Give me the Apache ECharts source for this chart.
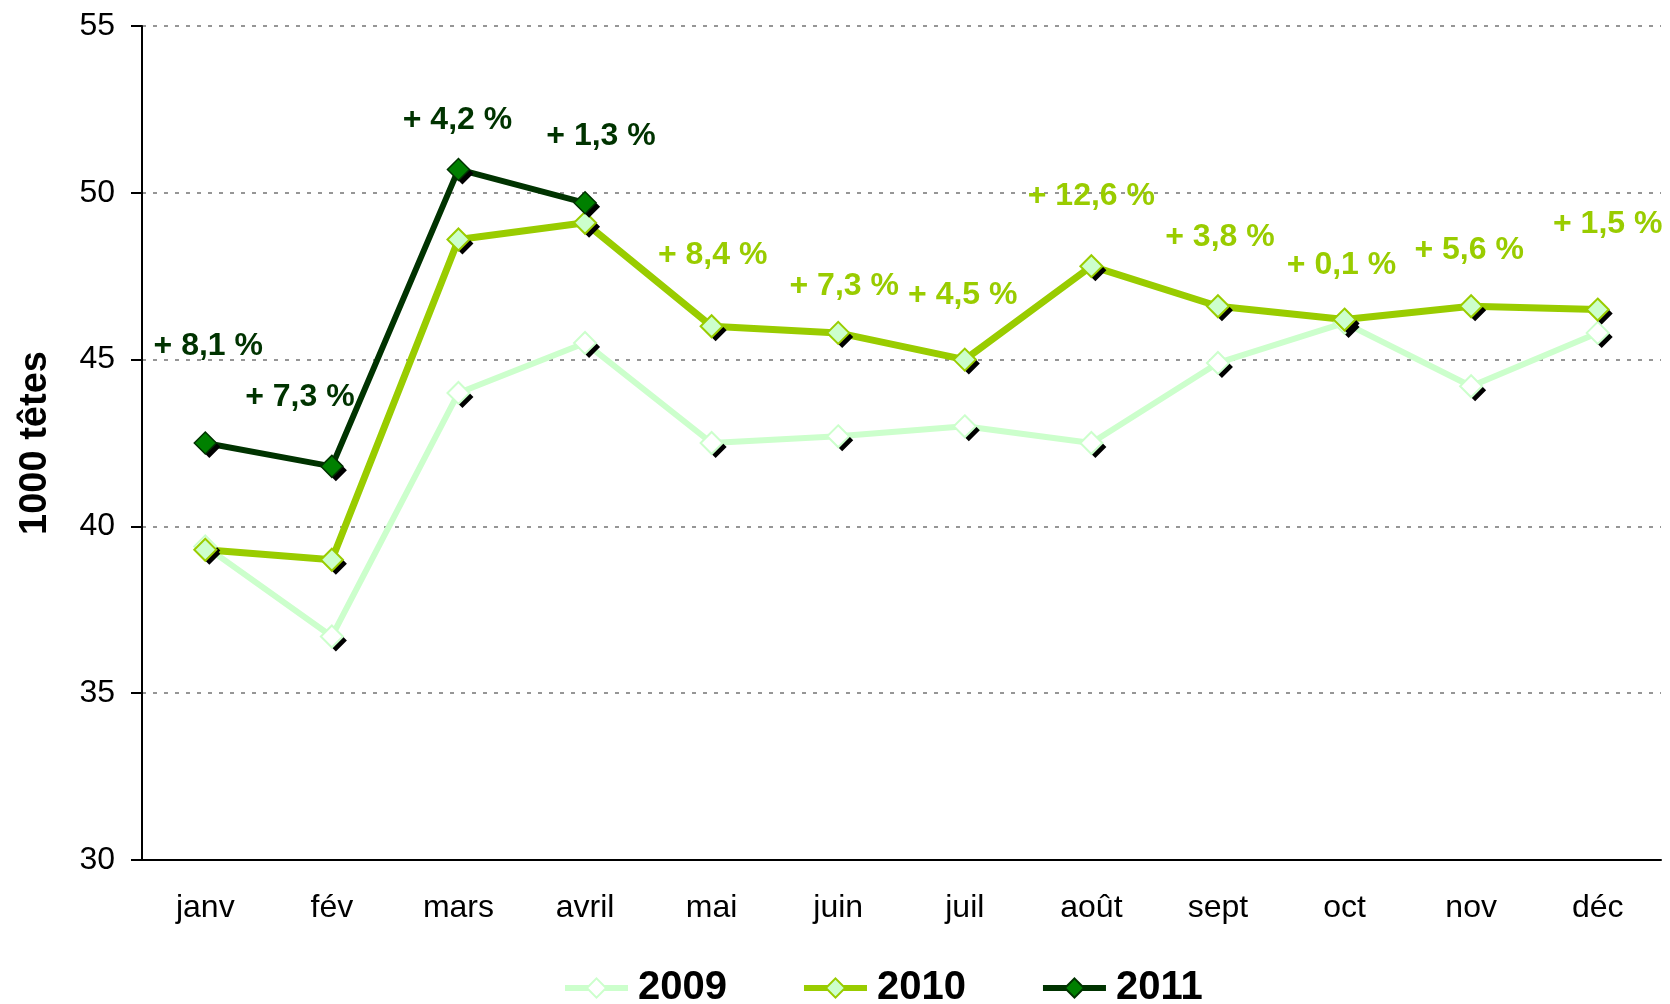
<!DOCTYPE html>
<html>
<head>
<meta charset="utf-8">
<script src="https://cdn.jsdelivr.net/npm/echarts@6/dist/echarts.min.js"></script>
<style>
  html, body { margin: 0; padding: 0; background: #fff; }
  #chart { width: 1670px; height: 1004px; }
</style>
</head>
<body>
<div id="chart"></div>
<script>
// data
var months = ['janv', 'fév', 'mars', 'avril', 'mai', 'juin', 'juil', 'août', 'sept', 'oct', 'nov', 'déc'];
var val2009 = [39.4, 36.7, 44.0, 45.5, 42.5, 42.7, 43.0, 42.5, 44.9, 46.1, 44.2, 45.8];
var val2010 = [39.3, 39.0, 48.6, 49.1, 46.0, 45.8, 45.0, 47.8, 46.6, 46.2, 46.6, 46.5];
var val2011 = [42.5, 41.8, 50.7, 49.7];
var pct2010 = [null, null, null, null, '+ 8,4 %', '+ 7,3 %', '+ 4,5 %', '+ 12,6 %', '+ 3,8 %', '+ 0,1 %', '+ 5,6 %', '+ 1,5 %'];
var pct2011 = ['+ 8,1 %', '+ 7,3 %', '+ 4,2 %', '+ 1,3 %'];
var yTicks = { min: 30, max: 55, step: 5 };

// label placement relative to its point (layout only)
var off2010 = [null, null, null, null, [1, -71], [6, -47], [-2, -64], [0, -70], [2, -69], [-3, -54], [-2, -56], [10, -85]];
var off2011 = [[3, -97], [-32, -69], [-1, -49], [16, -67]];

var font = "'Liberation Sans', Arial, sans-serif";
var markSize = 22;

function withLabels(values, texts, offsets, color) {
  return values.map(function (v, i) {
    if (!texts[i]) return v;
    return {
      value: v,
      label: {
        show: true,
        position: 'inside',
        offset: offsets[i],
        formatter: texts[i],
        color: color,
        fontFamily: font,
        fontWeight: 'bold',
        fontSize: 32
      }
    };
  });
}

// black drop shadow under each marker
function shadowSeries(name, values) {
  return {
    name: name,
    type: 'line',
    data: values,
    silent: true,
    symbol: 'diamond',
    symbolSize: markSize,
    symbolOffset: [4, 4],
    lineStyle: { opacity: 0, width: 0 },
    itemStyle: { color: '#000', borderWidth: 0 }
  };
}

var chart = echarts.init(document.getElementById('chart'));
var option = {
  animation: false,
  grid: { left: 142, right: 9, top: 26, bottom: 144 },
  legend: {
    left: 562,
    top: 968,
    padding: 0,
    itemWidth: 63,
    itemHeight: 24,
    itemGap: 74,
    textStyle: { fontFamily: font, fontWeight: 'bold', fontSize: 40, color: '#000', padding: [0, 0, 0, 5] },
    lineStyle: { width: 6 },
    data: ['2009', '2010', '2011']
  },
  xAxis: {
    type: 'category',
    data: months,
    axisLine: { lineStyle: { color: '#000', width: 2 } },
    axisTick: { length: 10, lineStyle: { color: '#000', width: 2 } },
    axisLabel: { color: '#000', fontFamily: font, fontSize: 32, margin: 32 }
  },
  yAxis: {
    type: 'value',
    min: yTicks.min,
    max: yTicks.max,
    interval: yTicks.step,
    name: '1000 têtes',
    nameLocation: 'middle',
    nameGap: 87,
    nameTextStyle: { color: '#000', fontFamily: font, fontWeight: 'bold', fontSize: 38 },
    axisLine: { show: true, lineStyle: { color: '#000', width: 2 } },
    axisTick: { show: true, length: 11, lineStyle: { color: '#000', width: 2 } },
    axisLabel: { color: '#000', fontFamily: font, fontSize: 32, margin: 27 },
    splitLine: { lineStyle: { color: '#969696', width: 2, type: [4, 7] } }
  },
  series: [
    shadowSeries('ombre 2009', val2009),
    {
      name: '2009',
      type: 'line',
      data: val2009,
      symbol: 'diamond',
      symbolSize: markSize,
      lineStyle: { color: '#ccffcc', width: 6 },
      itemStyle: { color: '#ffffff', borderColor: '#ccffcc', borderWidth: 2 }
    },
    shadowSeries('ombre 2010', val2010),
    {
      name: '2010',
      type: 'line',
      data: withLabels(val2010, pct2010, off2010, '#99cc00'),
      symbol: 'diamond',
      symbolSize: markSize,
      lineStyle: { color: '#99cc00', width: 7 },
      itemStyle: { color: '#ccffcc', borderColor: '#99cc00', borderWidth: 2 }
    },
    shadowSeries('ombre 2011', val2011),
    {
      name: '2011',
      type: 'line',
      data: withLabels(val2011, pct2011, off2011, '#003300'),
      symbol: 'diamond',
      symbolSize: markSize,
      lineStyle: { color: '#003300', width: 6 },
      itemStyle: { color: '#008000', borderColor: '#003300', borderWidth: 1.5 }
    }
  ]
};
chart.setOption(option);
</script>
</body>
</html>
